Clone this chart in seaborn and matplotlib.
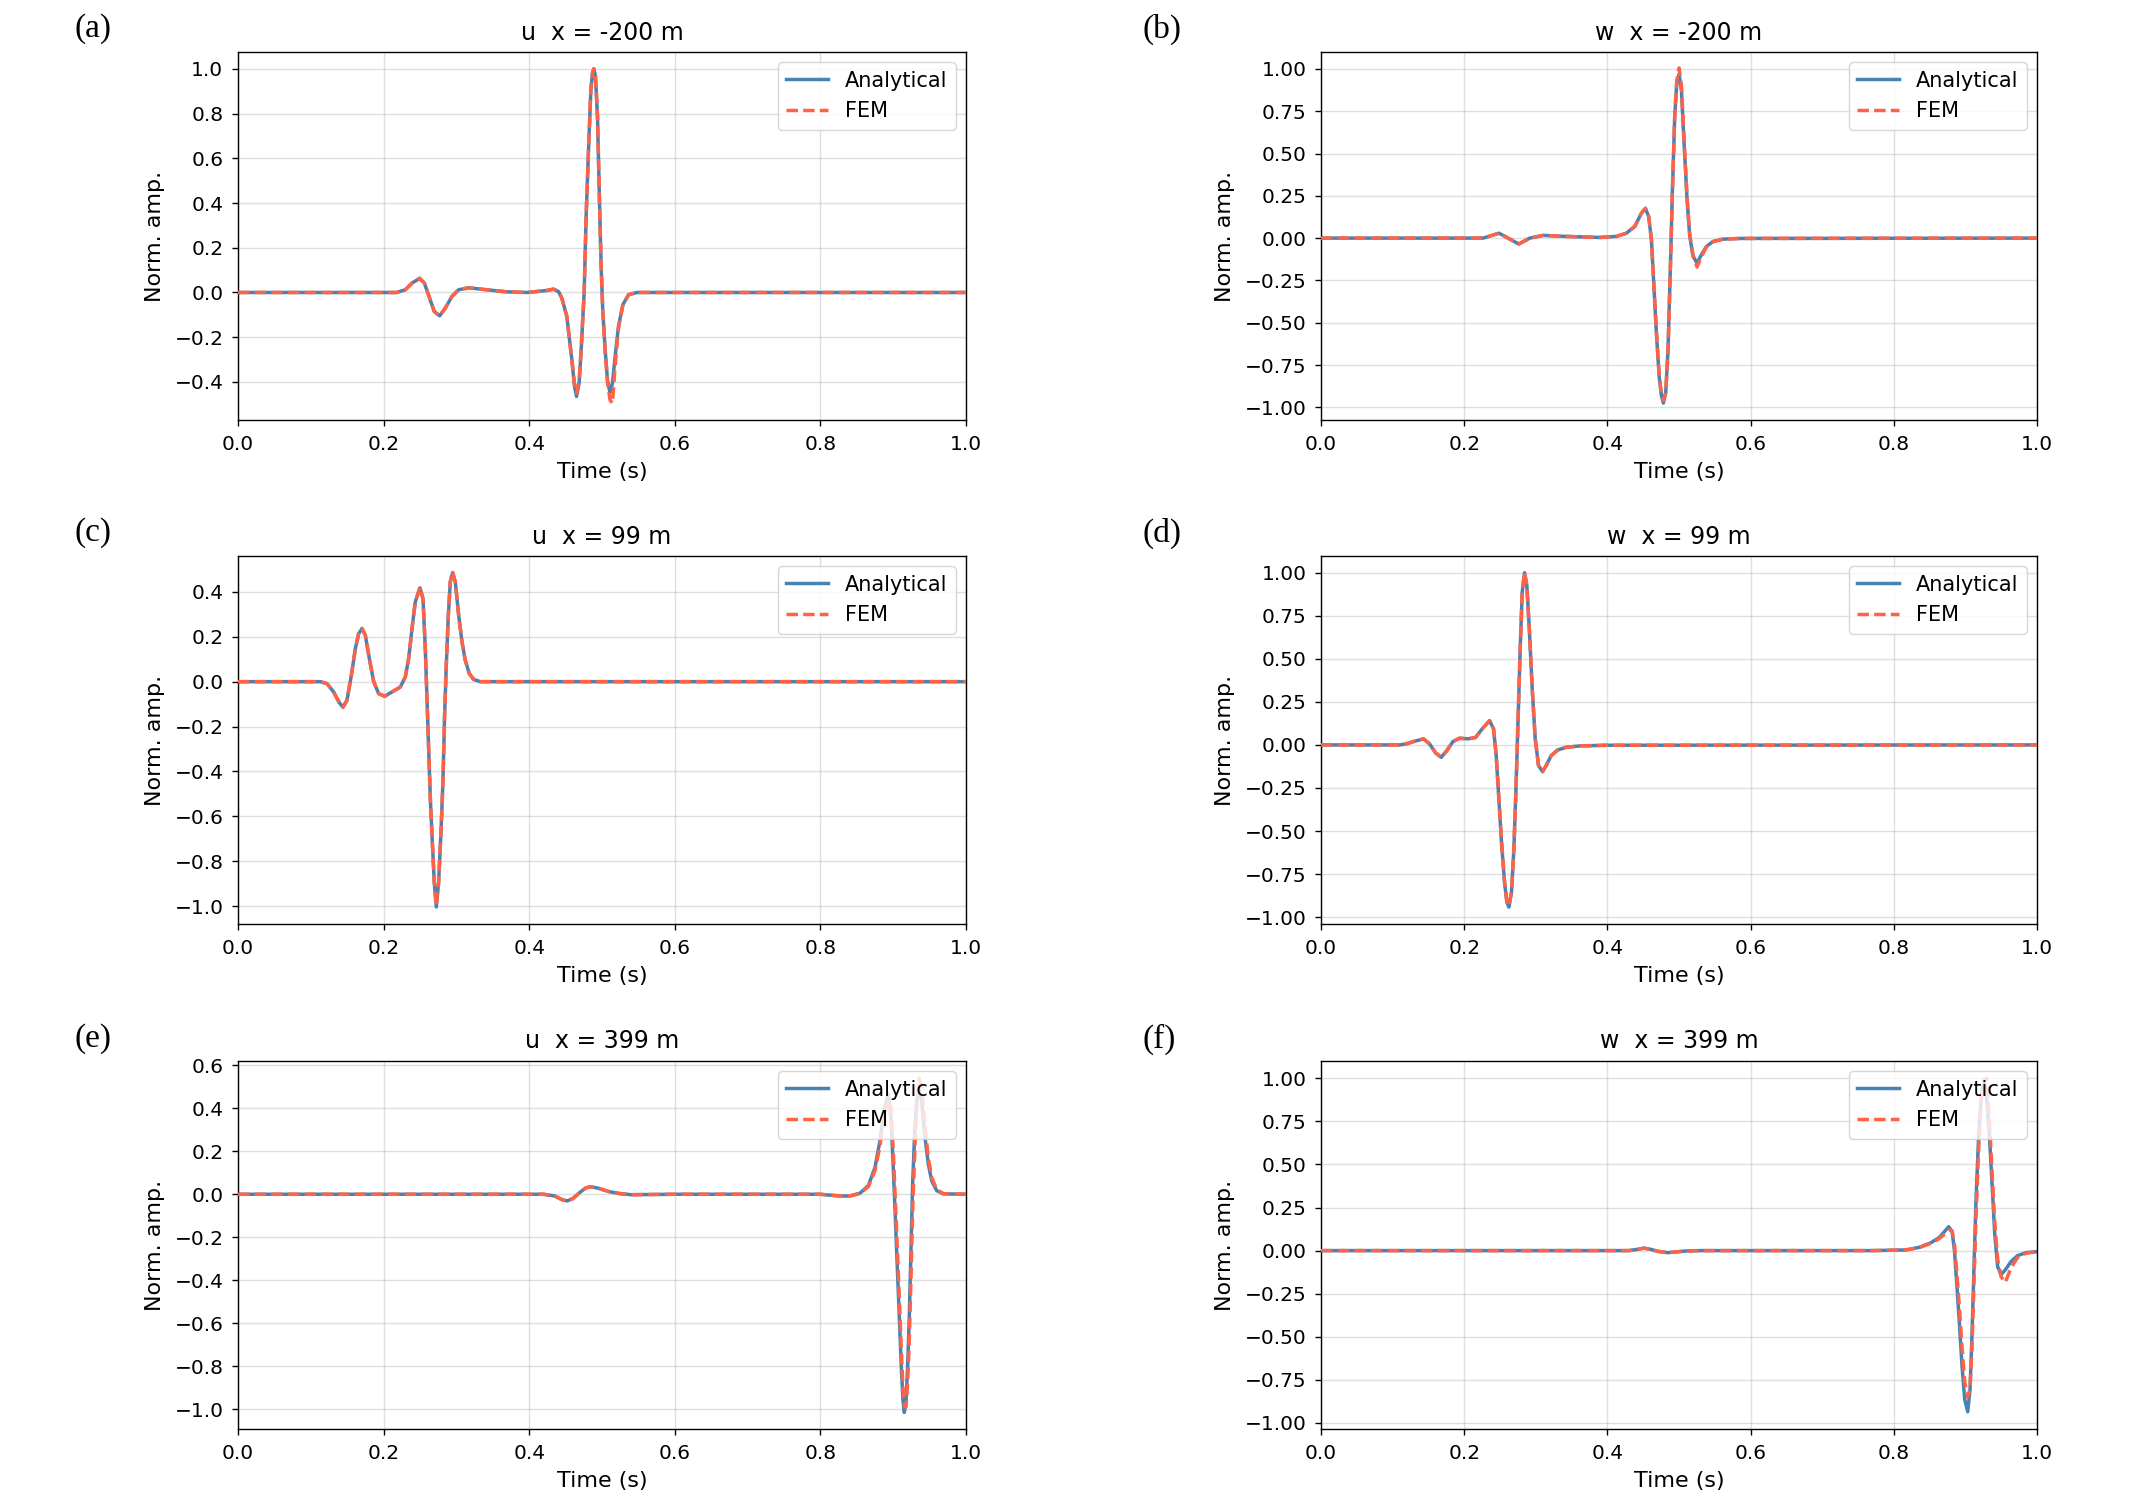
import numpy as np
import pandas as pd
import matplotlib
matplotlib.use("Agg")
import matplotlib.pyplot as plt
from matplotlib.ticker import MultipleLocator
import seaborn as sns

# ---------------- data ----------------
titles = ["u  x = -200 m", "w  x = -200 m", "u  x = 99 m",
          "w  x = 99 m", "u  x = 399 m", "w  x = 399 m"]
panel_tags = ["(a)", "(b)", "(c)", "(d)", "(e)", "(f)"]
series_names = ["Analytical", "FEM"]

# (a) u, x = -200 m
t_a = [0.0, 0.218, 0.2298, 0.239, 0.2495, 0.256, 0.2632, 0.2696, 0.277, 0.2847,
       0.2938, 0.303, 0.3167, 0.3419, 0.3693, 0.3968, 0.4243, 0.4334, 0.4403, 0.4448,
       0.4517, 0.4586, 0.4622, 0.465, 0.4686, 0.4714, 0.4755, 0.4782, 0.4815, 0.4847,
       0.487, 0.4888, 0.491, 0.4938, 0.4965, 0.4988, 0.501, 0.5043, 0.5075, 0.511,
       0.5144, 0.518, 0.5226, 0.5286, 0.5364, 0.548, 1.0]
ana_a = [0, 0, 0.012, 0.042, 0.063, 0.042, -0.025, -0.085, -0.104, -0.07,
         -0.018, 0.012, 0.021, 0.012, 0.003, 0, 0.009, 0.015, 0.004, -0.025,
         -0.107, -0.301, -0.42, -0.465, -0.405, -0.256, 0, 0.34, 0.638, 0.906,
         0.98, 1.0, 0.966, 0.787, 0.414, 0.116, -0.077, -0.256, -0.39, -0.45,
         -0.405, -0.286, -0.152, -0.055, -0.01, 0, 0]
fem_a = [0, 0, 0.012, 0.042, 0.064, 0.042, -0.025, -0.085, -0.105, -0.07,
         -0.018, 0.012, 0.021, 0.012, 0.003, 0, 0.009, 0.015, 0.004, -0.025,
         -0.107, -0.3, -0.41, -0.45, -0.395, -0.25, 0, 0.34, 0.64, 0.91,
         0.985, 1.0, 0.97, 0.79, 0.42, 0.12, -0.075, -0.26, -0.4, -0.48,
         -0.495, -0.33, -0.16, -0.058, -0.01, 0, 0]

# (b) w, x = -200 m
t_b = [0.0, 0.2264, 0.2487, 0.2613, 0.2762, 0.2915, 0.3101, 0.3427, 0.3893, 0.4126,
       0.4265, 0.4382, 0.4475, 0.4531, 0.4577, 0.4615, 0.4647, 0.4684, 0.4722, 0.4754,
       0.4782, 0.4815, 0.4847, 0.488, 0.4908, 0.494, 0.4968, 0.5001, 0.5034, 0.5071,
       0.5113, 0.515, 0.5196, 0.5252, 0.5313, 0.5383, 0.5476, 0.5615, 0.5848, 1.0]
ana_b = [0, 0, 0.029, 0, -0.035, 0, 0.016, 0.01, 0.004, 0.01,
         0.029, 0.069, 0.147, 0.176, 0.127, -0.01, -0.265, -0.559, -0.814, -0.931,
         -0.975, -0.912, -0.657, -0.167, 0.284, 0.716, 0.912, 0.97, 0.873, 0.559,
         0.225, 0.01, -0.108, -0.147, -0.098, -0.049, -0.02, -0.006, -0.002, 0]
fem_b = [0, 0, 0.029, 0, -0.035, 0, 0.016, 0.01, 0.004, 0.01,
         0.029, 0.069, 0.147, 0.176, 0.127, -0.01, -0.26, -0.55, -0.8, -0.92,
         -0.96, -0.91, -0.66, -0.17, 0.28, 0.72, 0.93, 1.006, 0.9, 0.58,
         0.24, 0.02, -0.1, -0.171, -0.11, -0.052, -0.02, -0.006, -0.002, 0]

# (c) u, x = 99 m
t_c = [0.0, 0.1131, 0.1223, 0.1314, 0.1392, 0.1442, 0.1497, 0.1557, 0.1612, 0.1657,
       0.1703, 0.1749, 0.1804, 0.1864, 0.1932, 0.2014, 0.2115, 0.223, 0.2298, 0.2344,
       0.239, 0.2435, 0.2499, 0.2541, 0.2573, 0.2596, 0.2619, 0.2642, 0.2669, 0.2696,
       0.2724, 0.2756, 0.2788, 0.2815, 0.2838, 0.2861, 0.2889, 0.2916, 0.2948, 0.2985,
       0.3031, 0.3077, 0.3122, 0.3177, 0.3237, 0.3328, 1.0]
ana_c = [0, 0, -0.009, -0.046, -0.094, -0.113, -0.083, 0.028, 0.147, 0.214,
         0.236, 0.207, 0.103, 0, -0.053, -0.065, -0.046, -0.024, 0.021, 0.103,
         0.236, 0.355, 0.418, 0.37, 0.147, -0.076, -0.299, -0.522, -0.715, -0.893,
         -1.004, -0.893, -0.67, -0.447, -0.15, 0.073, 0.296, 0.444, 0.486, 0.444,
         0.296, 0.177, 0.095, 0.036, 0.01, 0, 0]
fem_c = [0, 0, -0.009, -0.046, -0.094, -0.115, -0.083, 0.028, 0.147, 0.214,
         0.238, 0.207, 0.103, 0, -0.053, -0.066, -0.046, -0.024, 0.021, 0.103,
         0.236, 0.355, 0.42, 0.37, 0.147, -0.076, -0.299, -0.522, -0.715, -0.893,
         -1.0, -0.893, -0.67, -0.447, -0.15, 0.073, 0.296, 0.447, 0.49, 0.444,
         0.296, 0.177, 0.095, 0.036, 0.01, 0, 0]

# (d) w, x = 99 m
t_d = [0.0, 0.1097, 0.119, 0.1306, 0.1432, 0.1516, 0.16, 0.1679, 0.1758, 0.1842,
       0.1935, 0.2051, 0.2158, 0.2251, 0.2354, 0.241, 0.2447, 0.2484, 0.2521, 0.2563,
       0.2596, 0.2624, 0.2661, 0.2694, 0.2726, 0.2754, 0.2782, 0.281, 0.2843, 0.2875,
       0.2912, 0.295, 0.2992, 0.3038, 0.3094, 0.3145, 0.3215, 0.3308, 0.3425, 0.3611,
       0.3983, 1.0]
ana_d = [0, 0, 0.006, 0.021, 0.035, 0.006, -0.046, -0.072, -0.033, 0.019,
         0.039, 0.035, 0.043, 0.093, 0.141, 0.093, -0.062, -0.313, -0.565, -0.797,
         -0.913, -0.942, -0.855, -0.603, -0.217, 0.17, 0.557, 0.886, 1.0, 0.925,
         0.654, 0.325, 0.035, -0.12, -0.155, -0.12, -0.062, -0.029, -0.014, -0.006,
         -0.002, 0]
fem_d = [0, 0, 0.006, 0.021, 0.035, 0.006, -0.046, -0.072, -0.033, 0.019,
         0.039, 0.035, 0.043, 0.093, 0.14, 0.093, -0.062, -0.31, -0.56, -0.79,
         -0.91, -0.935, -0.855, -0.603, -0.217, 0.17, 0.557, 0.89, 1.003, 0.925,
         0.654, 0.325, 0.035, -0.12, -0.156, -0.12, -0.062, -0.029, -0.014, -0.006,
         -0.002, 0]

# (e) u, x = 399 m
t_e = [0.0, 0.42, 0.435, 0.445, 0.452, 0.46, 0.47, 0.478, 0.485, 0.495,
       0.51, 0.525, 0.54, 0.6, 0.7995, 0.8269, 0.8406, 0.8544, 0.8658, 0.875,
       0.8818, 0.8873, 0.8933, 0.8969, 0.9001, 0.9029, 0.9056, 0.9084, 0.9111, 0.9134,
       0.9152, 0.9175, 0.9198, 0.9221, 0.9244, 0.9267, 0.9294, 0.9322, 0.9354, 0.9391,
       0.9437, 0.9482, 0.9528, 0.9597, 0.9689, 1.0]
ana_e = [0, 0, -0.008, -0.025, -0.031, -0.02, 0.01, 0.03, 0.035, 0.028,
         0.012, 0.003, -0.002, 0, 0, -0.008, -0.008, 0.005, 0.04, 0.125,
         0.249, 0.388, 0.465, 0.357, 0.125, -0.107, -0.338, -0.57, -0.802, -0.957,
         -1.015, -0.972, -0.802, -0.57, -0.261, 0.048, 0.28, 0.434, 0.488, 0.434,
         0.264, 0.141, 0.063, 0.017, 0.002, 0]
fem_e = [0, 0, -0.008, -0.025, -0.031, -0.02, 0.01, 0.03, 0.035, 0.028,
         0.012, 0.003, -0.002, 0, 0, -0.008, -0.008, 0.004, 0.035, 0.11,
         0.225, 0.36, 0.44, 0.4, 0.2, -0.02, -0.25, -0.48, -0.72, -0.9,
         -0.985, -0.99, -0.88, -0.68, -0.4, -0.08, 0.18, 0.4, 0.54, 0.5,
         0.32, 0.17, 0.08, 0.022, 0.003, 0]

# (f) w, x = 399 m
t_f = [0.0, 0.43, 0.44, 0.451, 0.46, 0.47, 0.484, 0.495, 0.51, 0.53,
       0.7707, 0.8172, 0.8358, 0.8521, 0.8637, 0.8707, 0.8767, 0.8814, 0.8846, 0.8879,
       0.8916, 0.8953, 0.899, 0.9032, 0.9065, 0.9093, 0.912, 0.9148, 0.9186, 0.9223,
       0.9265, 0.9297, 0.9334, 0.9372, 0.9409, 0.945, 0.9497, 0.9557, 0.9636, 0.9729,
       0.9846, 1.0]
ana_f = [0, 0, 0.006, 0.014, 0.008, -0.004, -0.012, -0.008, -0.002, 0,
         0, 0.004, 0.019, 0.046, 0.077, 0.11, 0.139, 0.11, 0.004, -0.189,
         -0.42, -0.67, -0.862, -0.935, -0.805, -0.477, -0.092, 0.293, 0.678, 0.909,
         0.986, 0.889, 0.678, 0.389, 0.1, -0.092, -0.14, -0.112, -0.064, -0.029,
         -0.012, -0.006]
fem_f = [0, 0, 0.006, 0.014, 0.008, -0.004, -0.012, -0.008, -0.002, 0,
         0, 0.004, 0.018, 0.043, 0.07, 0.095, 0.12, 0.115, 0.04, -0.12,
         -0.33, -0.56, -0.76, -0.85, -0.8, -0.55, -0.18, 0.2, 0.6, 0.88,
         0.99, 1.0, 0.76, 0.46, 0.17, -0.05, -0.15, -0.185, -0.1, -0.04,
         -0.015, -0.006]

times = [t_a, t_b, t_c, t_d, t_e, t_f]
analytical = [ana_a, ana_b, ana_c, ana_d, ana_e, ana_f]
fem = [fem_a, fem_b, fem_c, fem_d, fem_e, fem_f]
ylims = [(-0.57, 1.075), (-1.075, 1.10), (-1.08, 0.56),
         (-1.04, 1.097), (-1.092, 0.62), (-1.035, 1.10)]
ystep = [0.2, 0.25, 0.2, 0.25, 0.2, 0.25]

# ---------------- figure ----------------
W, H = 2141, 1503
fig = plt.figure(figsize=(W / 100, H / 100), dpi=100)
plt.rcParams["font.family"] = ["DejaVu Sans"]

lefts = [238, 1321]
widths = [728, 716]
tops = [52, 556, 1061]
ax_h = 368
tag_x = [74, 1143]
tag_y = [29, 533, 1039]

c_ana = "#4682B4"
c_fem = "#FF6347"

for i in range(6):
    r, c = divmod(i, 2)
    ax = fig.add_axes([lefts[c] / W, 1 - (tops[r] + ax_h) / H, widths[c] / W, ax_h / H])
    df_a = pd.DataFrame({"Time": times[i], "amp": analytical[i]})
    df_f = pd.DataFrame({"Time": times[i], "amp": fem[i]})
    sns.lineplot(data=df_a, x="Time", y="amp", ax=ax, color=c_ana, lw=2.5,
                 label=series_names[0], zorder=2)
    sns.lineplot(data=df_f, x="Time", y="amp", ax=ax, color=c_fem, lw=2.5,
                 linestyle=(0, (3.3, 1.5)), label=series_names[1], zorder=3)
    ax.set_xlim(0, 1)
    ax.set_ylim(*ylims[i])
    ax.xaxis.set_major_locator(MultipleLocator(0.2))
    ax.yaxis.set_major_locator(MultipleLocator(ystep[i]))
    if ystep[i] == 0.25:
        ax.yaxis.set_major_formatter(matplotlib.ticker.FuncFormatter(
            lambda v, p: f"{v:.2f}".replace("-", "\u2212")))
    else:
        ax.yaxis.set_major_formatter(matplotlib.ticker.FuncFormatter(
            lambda v, p: f"{v:.1f}".replace("-", "\u2212")))
    ax.xaxis.set_major_formatter(matplotlib.ticker.FuncFormatter(lambda v, p: f"{v:.1f}"))
    ax.grid(True, color="#b0b0b0", alpha=0.4, lw=1.0)
    ax.set_axisbelow(True)
    for s in ax.spines.values():
        s.set_color("black")
        s.set_linewidth(1.0)
    ax.tick_params(labelsize=14.5, length=4.5, width=1.0, pad=6)
    ax.set_xlabel("Time (s)", fontsize=16, labelpad=6)
    ax.set_ylabel("Norm. amp.", fontsize=16, labelpad=7)
    ax.set_title(titles[i], fontsize=17, pad=9)
    leg = ax.legend(loc="upper right", fontsize=15, frameon=True, fancybox=True,
                    framealpha=0.8, edgecolor="#cccccc", handlelength=2.0,
                    borderaxespad=0.5)
    fig.text(tag_x[c] / W, 1 - tag_y[r] / H, panel_tags[i], fontsize=24,
             family="Liberation Serif", ha="left", va="center")

fig.savefig("out.png", dpi=100)
